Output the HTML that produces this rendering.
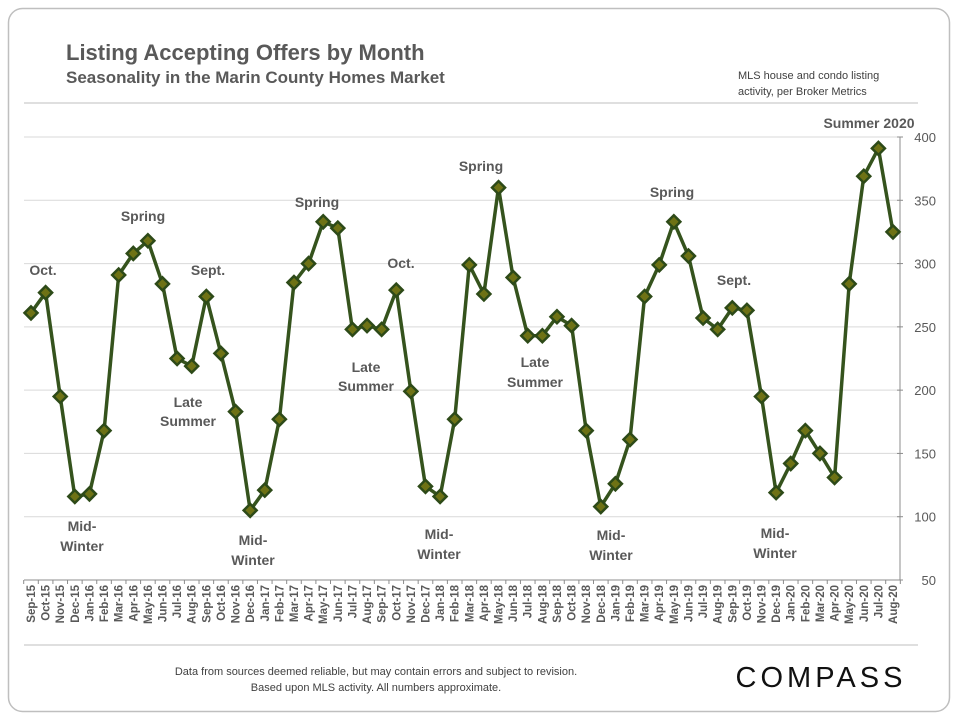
<!DOCTYPE html>
<html><head><meta charset="utf-8"><style>
body{margin:0;background:#fff;font-family:"Liberation Sans",sans-serif}
svg text{font-family:"Liberation Sans",sans-serif}
</style></head><body>
<svg id="chart" width="960" height="720" viewBox="0 0 960 720" xmlns="http://www.w3.org/2000/svg">
<rect x="8.5" y="8.5" width="941" height="703" rx="14" fill="#fff" stroke="#bfbfbf" stroke-width="1.5"/>
<text x="66" y="60" font-size="22" font-weight="bold" fill="#595959">Listing Accepting Offers by Month</text>
<text x="66" y="83" font-size="17" font-weight="bold" fill="#595959">Seasonality  in the Marin County Homes Market</text>
<text x="738" y="79" font-size="11" fill="#404040">MLS house and condo listing</text>
<text x="738" y="95" font-size="11" fill="#404040">activity, per Broker Metrics</text>
<line x1="24" y1="103" x2="918" y2="103" stroke="#bfbfbf"/>
<g id="grid"></g>
<g id="axes"></g>
<g id="series"></g>
<g id="annotations" font-size="14" font-weight="bold" fill="#595959" text-anchor="middle">
<text x="43" y="275">Oct.</text>
<text x="82" y="531">Mid-</text>
<text x="82" y="551">Winter</text>
<text x="143" y="221">Spring</text>
<text x="208" y="275">Sept.</text>
<text x="188" y="407">Late</text>
<text x="188" y="426">Summer</text>
<text x="253" y="545">Mid-</text>
<text x="253" y="565">Winter</text>
<text x="317" y="207">Spring</text>
<text x="401" y="268">Oct.</text>
<text x="366" y="372">Late</text>
<text x="366" y="391">Summer</text>
<text x="439" y="539">Mid-</text>
<text x="439" y="559">Winter</text>
<text x="481" y="171">Spring</text>
<text x="535" y="367">Late</text>
<text x="535" y="387">Summer</text>
<text x="611" y="540">Mid-</text>
<text x="611" y="560">Winter</text>
<text x="672" y="197">Spring</text>
<text x="734" y="285">Sept.</text>
<text x="775" y="538">Mid-</text>
<text x="775" y="558">Winter</text>
<text x="869" y="128">Summer 2020</text>
</g>
<line x1="24" y1="645" x2="918" y2="645" stroke="#bfbfbf"/>
<text x="376" y="675" font-size="11" fill="#404040" text-anchor="middle">Data from sources deemed reliable, but may contain errors and subject to revision.</text>
<text x="376" y="691" font-size="11" fill="#404040" text-anchor="middle">Based upon MLS activity.  All numbers approximate.</text>
<text x="821" y="687" font-size="29" fill="#111" text-anchor="middle" letter-spacing="4">COMPASS</text>
</svg>
<script>
const months = ["Sep-15","Oct-15","Nov-15","Dec-15","Jan-16","Feb-16","Mar-16","Apr-16","May-16","Jun-16","Jul-16","Aug-16","Sep-16","Oct-16","Nov-16","Dec-16","Jan-17","Feb-17","Mar-17","Apr-17","May-17","Jun-17","Jul-17","Aug-17","Sep-17","Oct-17","Nov-17","Dec-17","Jan-18","Feb-18","Mar-18","Apr-18","May-18","Jun-18","Jul-18","Aug-18","Sep-18","Oct-18","Nov-18","Dec-18","Jan-19","Feb-19","Mar-19","Apr-19","May-19","Jun-19","Jul-19","Aug-19","Sep-19","Oct-19","Nov-19","Dec-19","Jan-20","Feb-20","Mar-20","Apr-20","May-20","Jun-20","Jul-20","Aug-20"];
const listings = [261,277,195,116,118,168,291,308,318,284,225,219,274,229,183,105,121,177,285,300,333,328,248,251,248,279,199,124,116,177,299,276,360,289,243,243,258,251,168,108,126,161,274,299,333,306,257,248,265,263,195,119,142,168,150,131,284,369,391,325];
const yTicks = [50,100,150,200,250,300,350,400];
const NS="http://www.w3.org/2000/svg";
const X0=31, X1=893, AXL=24, AXR=900, YB=580, YT=137, YMIN=50, YMAX=400;
function xs(i){return X0+(X1-X0)*i/(months.length-1);}
function ys(v){return YB-(v-YMIN)/(YMAX-YMIN)*(YB-YT);}
function mk(tag,attrs,parent){const e=document.createElementNS(NS,tag);for(const k in attrs)e.setAttribute(k,attrs[k]);parent.appendChild(e);return e;}
const grid=document.getElementById('grid'), axes=document.getElementById('axes'), series=document.getElementById('series');
yTicks.forEach(t=>{
  const y=ys(t);
  if(t>YMIN){const g=mk('line',{x1:AXL,x2:AXR,y1:y,y2:y,stroke:'#d9d9d9'},grid);
  
  }
  const tk=mk('line',{x1:AXR-3,x2:AXR+3,y1:y,y2:y,stroke:'#8c8c8c'},axes);
  
  
  const tx=mk('text',{x:936,y:y+5,'font-size':13,fill:'#595959','text-anchor':'end'},axes);
  tx.textContent=t;
  
  
});
const xa=mk('line',{x1:AXL,x2:AXR,y1:YB,y2:YB,stroke:'#8c8c8c'},axes);


const ya=mk('line',{x1:AXR,x2:AXR,y1:YT,y2:YB,stroke:'#8c8c8c'},axes);


const step=(X1-X0)/(months.length-1);
for(let i=0;i<=months.length;i++){
  const x=X0-step/2+i*step;
  const t=mk('line',{x1:x,x2:x,y1:YB,y2:YB+4,stroke:'#8c8c8c'},axes);
  
  
}
months.forEach((m,i)=>{
  const x=xs(i)+4;
  const t=mk('text',{x:0,y:0,'font-size':11.5,'font-weight':'bold',fill:'#595959','text-anchor':'end',transform:`translate(${x},585) rotate(-90)`},axes);
  t.textContent=m;
  
  
});
const pts=listings.map((v,i)=>xs(i).toFixed(1)+','+ys(v).toFixed(1)).join(' ');
const pl=mk('polyline',{points:pts,fill:'none',stroke:'#35531d','stroke-width':3.5,'stroke-linejoin':'round'},series);


listings.forEach((v,i)=>{
  const x=xs(i), y=ys(v), r=6.5;
  const d=mk('polygon',{points:`${x},${y-r} ${x+r},${y} ${x},${y+r} ${x-r},${y}`,fill:'#6e7215',stroke:'#2d4a18','stroke-width':2.5},series);
  
  
});
</script>
</body></html>
